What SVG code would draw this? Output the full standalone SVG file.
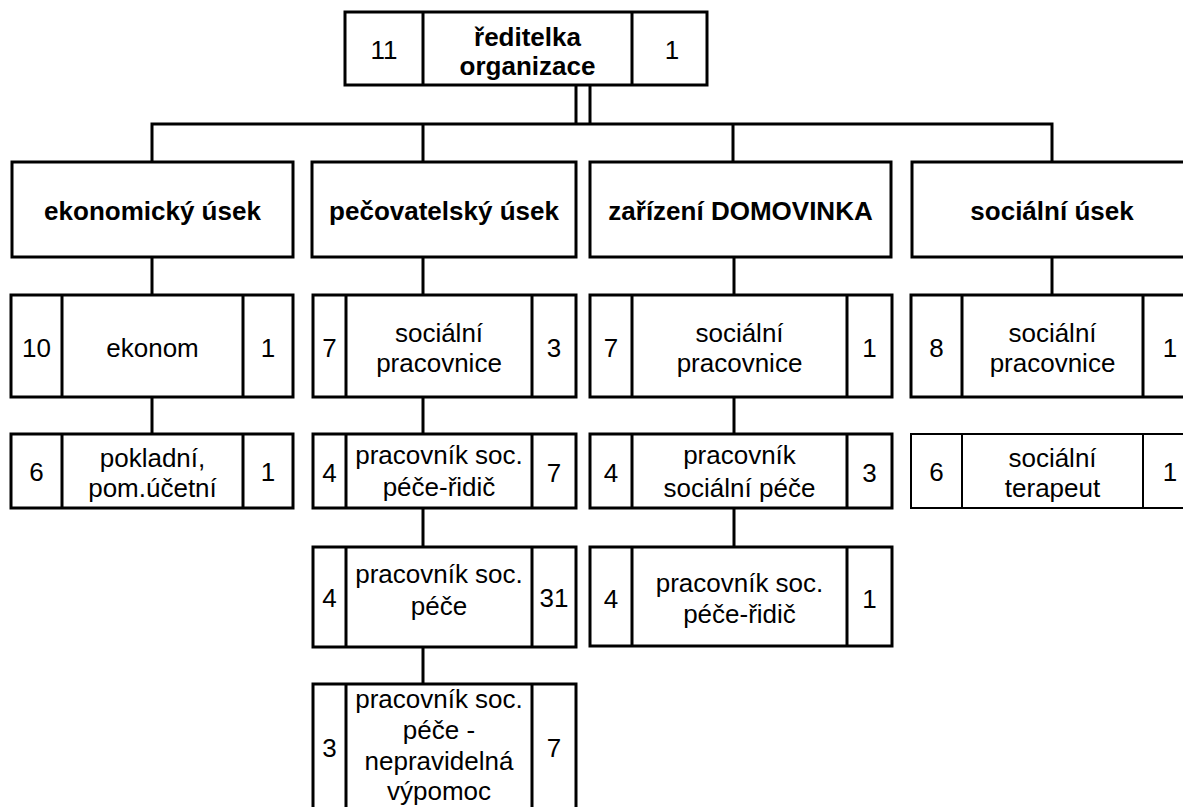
<svg xmlns="http://www.w3.org/2000/svg" width="1183" height="807" viewBox="0 0 1183 807">
<style>
.box{fill:#fff;stroke:#000;stroke-width:3}
.dv{stroke:#000;stroke-width:3}
.thin .box,.thin .dv{stroke-width:2}
.cn{stroke:#000;stroke-width:3;fill:none}
text{font-family:"Liberation Sans",Arial,sans-serif;font-size:26px;text-anchor:middle;fill:#000}
.b{font-weight:bold}
</style>
<rect width="1183" height="807" fill="#fff"/>
<g id="connectors">
<path class="cn" d="M576 85V124M590 85V124M152 162V124H1052V162M423 124V162M733 124V162"/>
<path class="cn" d="M152 257V295M152 397V434"/>
<path class="cn" d="M423 257V295M423 397V434M423 508V547M423 647V684"/>
<path class="cn" d="M734 257V295M734 397V434M734 508V547"/>
<path class="cn" d="M1052 257V295"/>
</g>
<g id="top">
<rect class="box" x="345" y="12" width="362" height="73"/>
<path class="dv" d="M423 12V85M632 12V85"/>
<text x="384" y="59">11</text>
<text class="b" x="527.5" y="46">ředitelka</text>
<text class="b" x="527.5" y="75">organizace</text>
<text x="672" y="59">1</text>
</g>
<g id="dept-ekonomicky">
<rect class="box" x="12" y="162" width="281" height="95"/>
<text class="b" x="152.5" y="220">ekonomický úsek</text>
</g>
<g id="dept-pecovatelsky">
<rect class="box" x="312" y="162" width="264" height="95"/>
<text class="b" x="444" y="220">pečovatelský úsek</text>
</g>
<g id="dept-zarizeni">
<rect class="box" x="590" y="162" width="301" height="95"/>
<text class="b" x="740.5" y="220">zařízení DOMOVINKA</text>
</g>
<g id="dept-socialni">
<rect class="box" x="912" y="162" width="280" height="95"/>
<text class="b" x="1052" y="220">sociální úsek</text>
</g>
<g id="ekon-ekonom">
<rect class="box" x="11" y="295" width="282" height="102"/>
<path class="dv" d="M62 295V397M243 295V397"/>
<text x="36.5" y="357">10</text>
<text x="152.5" y="357">ekonom</text>
<text x="268" y="357">1</text>
</g>
<g id="ekon-pokladni">
<rect class="box" x="11" y="434" width="282" height="74"/>
<path class="dv" d="M62 434V508M243 434V508"/>
<text x="36.5" y="481">6</text>
<text x="152.5" y="467">pokladní,</text>
<text x="152.5" y="497">pom.účetní</text>
<text x="268" y="481">1</text>
</g>
<g id="pec-socialni-pracovnice">
<rect class="box" x="313" y="295" width="263" height="102"/>
<path class="dv" d="M346 295V397M532 295V397"/>
<text x="329.5" y="357">7</text>
<text x="439" y="342">sociální</text>
<text x="439" y="372">pracovnice</text>
<text x="554" y="357">3</text>
</g>
<g id="pec-ridic">
<rect class="box" x="313" y="434" width="263" height="74"/>
<path class="dv" d="M346 434V508M532 434V508"/>
<text x="329.5" y="482">4</text>
<text x="439" y="464">pracovník soc.</text>
<text x="439" y="496">péče-řidič</text>
<text x="554" y="482">7</text>
</g>
<g id="pec-pracovnik">
<rect class="box" x="313" y="547" width="263" height="100"/>
<path class="dv" d="M346 547V647M532 547V647"/>
<text x="329.5" y="607">4</text>
<text x="439" y="583">pracovník soc.</text>
<text x="439" y="615">péče</text>
<text x="554" y="607">31</text>
</g>
<g id="pec-vypomoc">
<rect class="box" x="313" y="684" width="263" height="140"/>
<path class="dv" d="M346 684V824M532 684V824"/>
<text x="329.5" y="757">3</text>
<text x="439" y="708">pracovník soc.</text>
<text x="439" y="739">péče -</text>
<text x="439" y="770">nepravidelná</text>
<text x="439" y="800">výpomoc</text>
<text x="554" y="757">7</text>
</g>
<g id="zar-socialni-pracovnice">
<rect class="box" x="590" y="295" width="302" height="102"/>
<path class="dv" d="M632 295V397M847 295V397"/>
<text x="611" y="357">7</text>
<text x="739.5" y="342">sociální</text>
<text x="739.5" y="372">pracovnice</text>
<text x="869.5" y="357">1</text>
</g>
<g id="zar-pracovnik">
<rect class="box" x="590" y="434" width="302" height="74"/>
<path class="dv" d="M632 434V508M847 434V508"/>
<text x="611" y="482">4</text>
<text x="739.5" y="464">pracovník</text>
<text x="739.5" y="497">sociální péče</text>
<text x="869.5" y="482">3</text>
</g>
<g id="zar-ridic">
<rect class="box" x="590" y="547" width="302" height="99"/>
<path class="dv" d="M632 547V646M847 547V646"/>
<text x="611" y="608">4</text>
<text x="739.5" y="592">pracovník soc.</text>
<text x="739.5" y="623">péče-řidič</text>
<text x="869.5" y="608">1</text>
</g>
<g id="soc-socialni-pracovnice">
<rect class="box" x="911" y="295" width="286" height="102"/>
<path class="dv" d="M962 295V397M1143 295V397"/>
<text x="936.5" y="357">8</text>
<text x="1052.5" y="342">sociální</text>
<text x="1052.5" y="372">pracovnice</text>
<text x="1170" y="357">1</text>
</g>
<g id="soc-terapeut" class="thin">
<rect class="box" x="911" y="434" width="286" height="74"/>
<path class="dv" d="M962 434V508M1143 434V508"/>
<text x="936.5" y="481">6</text>
<text x="1052.5" y="467">sociální</text>
<text x="1052.5" y="497">terapeut</text>
<text x="1170" y="481">1</text>
</g>
</svg>
